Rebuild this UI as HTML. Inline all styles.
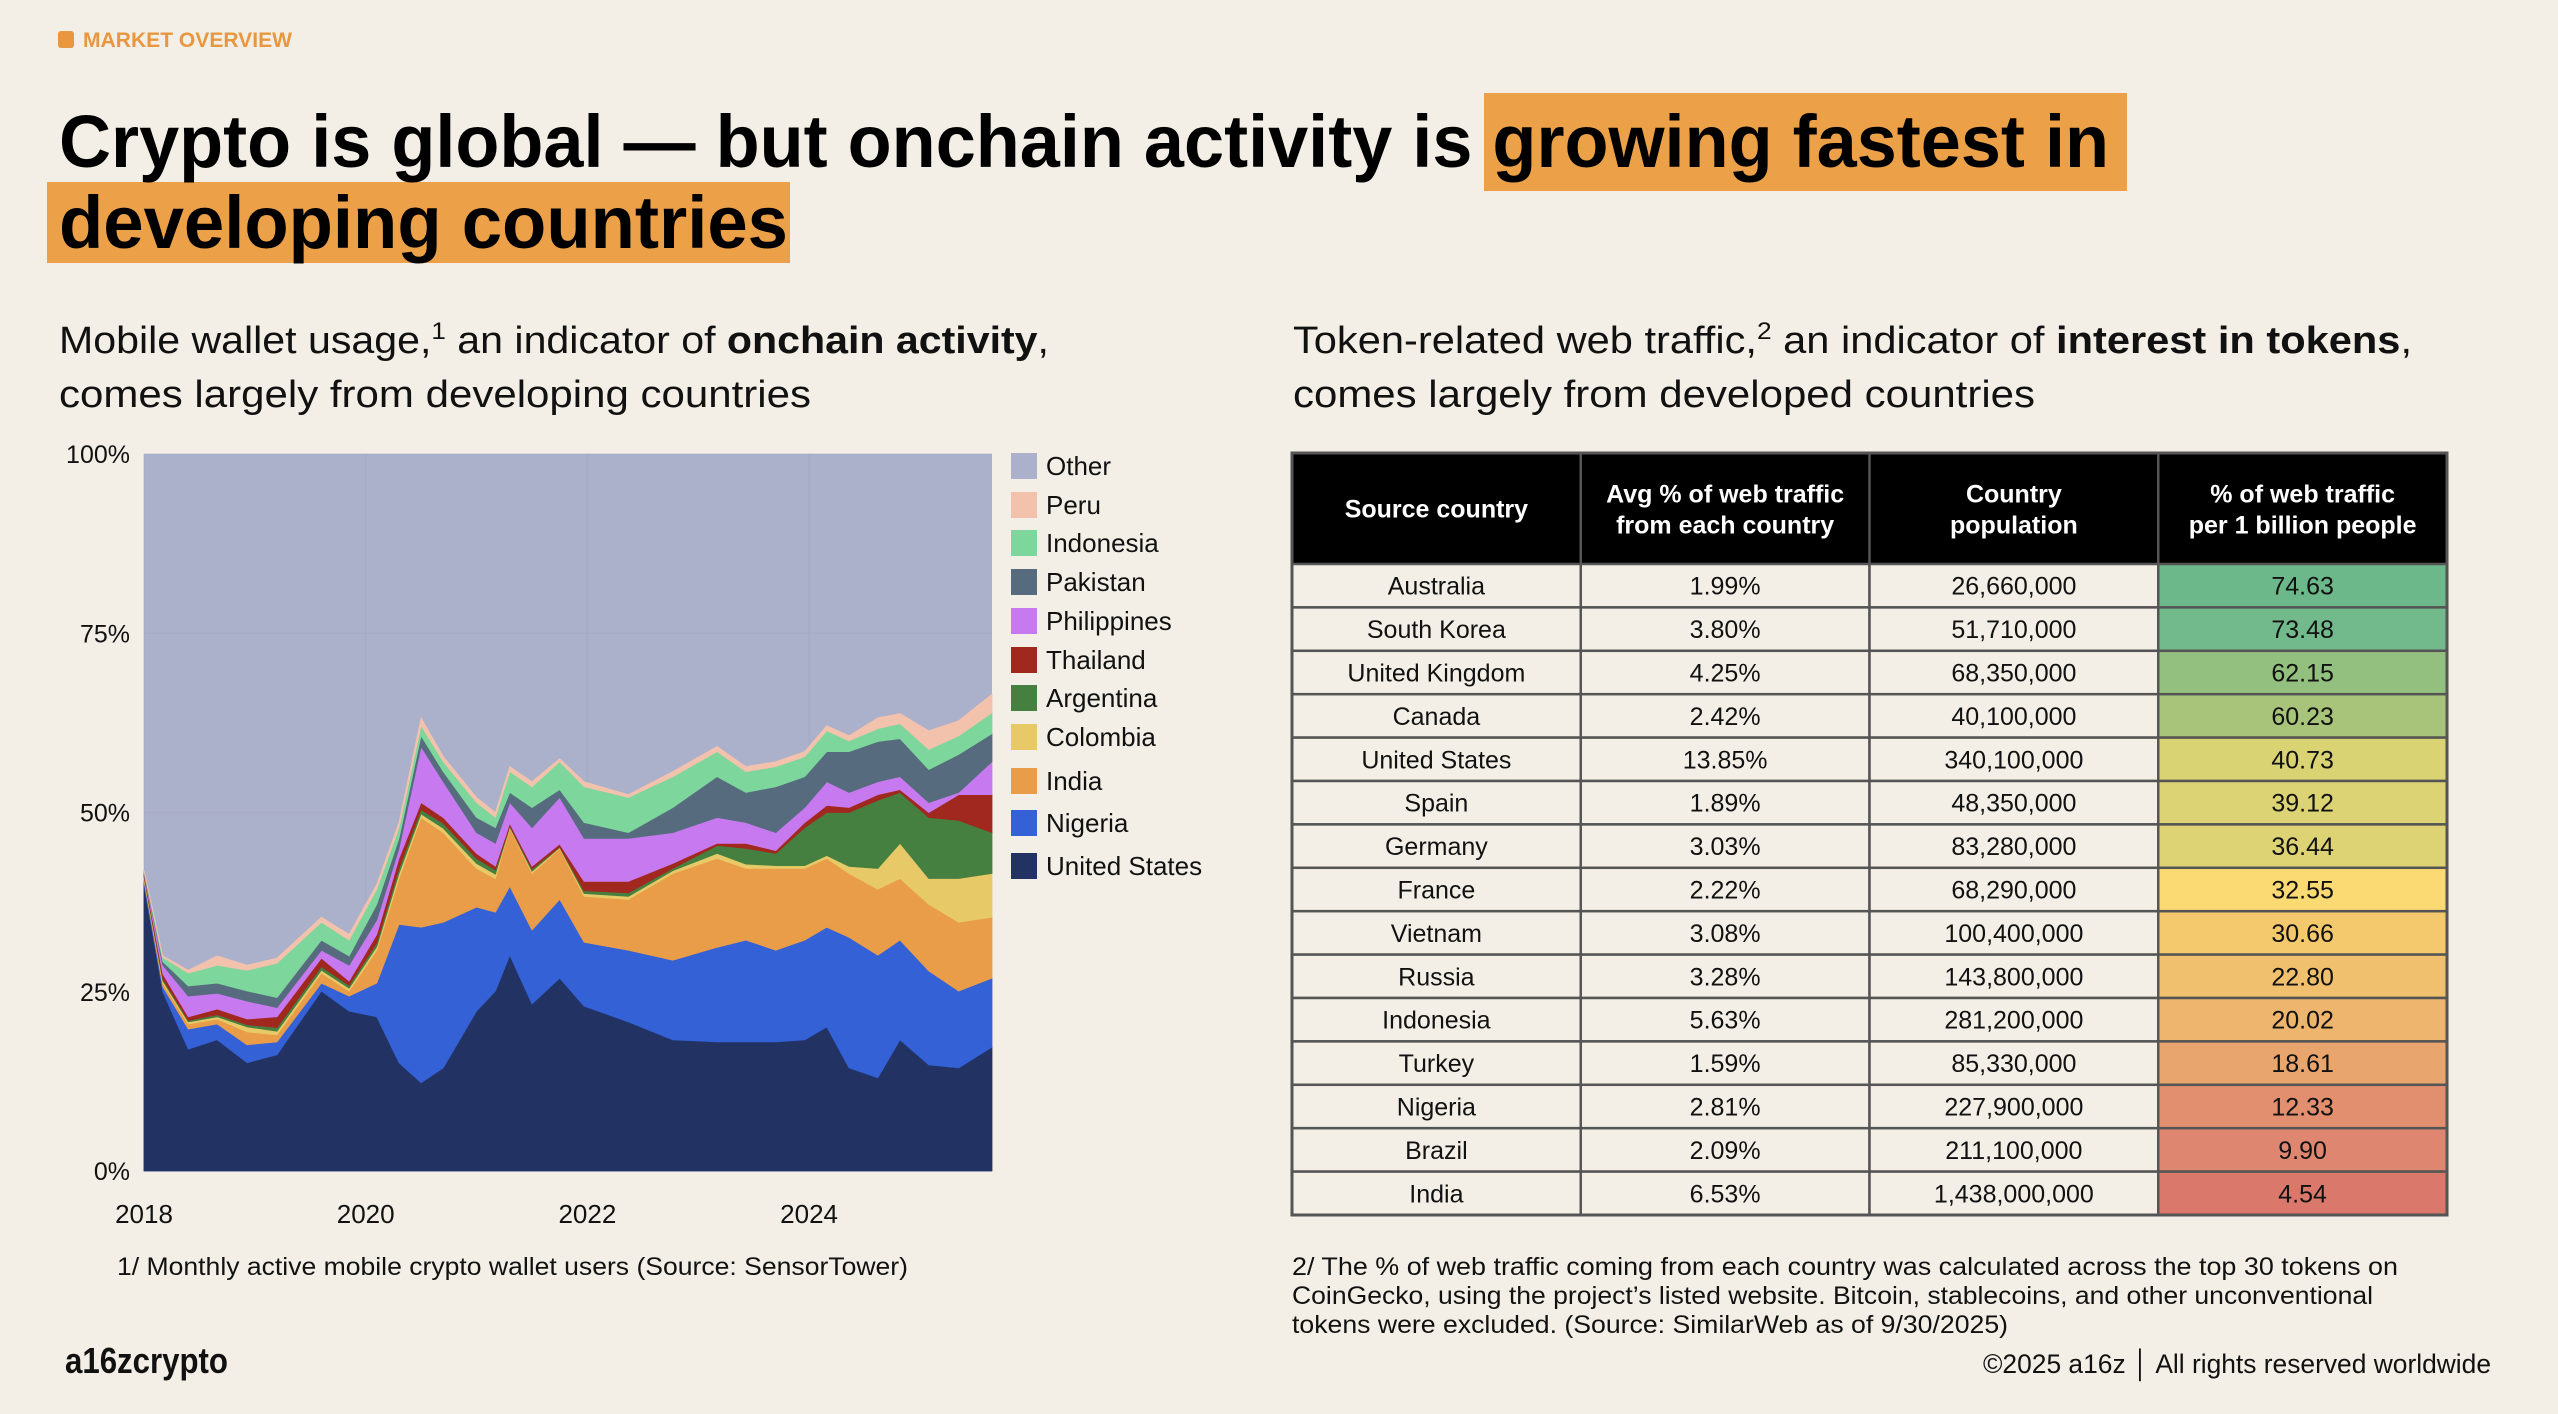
<!DOCTYPE html>
<html><head><meta charset="utf-8"><style>
html,body{margin:0;padding:0;background:#f3efe6;}
svg{display:block;font-family:"Liberation Sans",sans-serif;}
</style></head><body>
<svg id="page" width="2558" height="1414" viewBox="0 0 2558 1414" xmlns="http://www.w3.org/2000/svg">
<rect x="0" y="0" width="2558" height="1414" fill="#f3efe6"/>
<g>
<rect x="58" y="31" width="16" height="17" rx="3" fill="#e8973f"/>
<text x="83" y="47" font-size="21" font-weight="bold" fill="#e8973f" textLength="209" lengthAdjust="spacingAndGlyphs">MARKET OVERVIEW</text>
</g>
<g>
<rect x="1484" y="93" width="643" height="98" fill="#eca048"/>
<rect x="47" y="182" width="743" height="81" fill="#eca048"/>
<text x="59" y="167" font-size="74" font-weight="bold" fill="#000" textLength="2050" lengthAdjust="spacingAndGlyphs">Crypto is global — but onchain activity is growing fastest in</text>
<text x="59" y="248" font-size="74" font-weight="bold" fill="#000" textLength="729" lengthAdjust="spacingAndGlyphs">developing countries</text>
</g>
<g font-size="38" fill="#111">
<text x="59" y="353" textLength="990" lengthAdjust="spacingAndGlyphs">Mobile wallet usage,<tspan font-size="24" dy="-14">1</tspan><tspan dy="14"> an indicator of </tspan><tspan font-weight="bold">onchain activity</tspan>,</text>
<text x="59" y="407" textLength="752" lengthAdjust="spacingAndGlyphs">comes largely from developing countries</text>
</g>
<g font-size="38" fill="#111">
<text x="1293" y="353" textLength="1119" lengthAdjust="spacingAndGlyphs">Token-related web traffic,<tspan font-size="24" dy="-14">2</tspan><tspan dy="14"> an indicator of </tspan><tspan font-weight="bold">interest in tokens</tspan>,</text>
<text x="1293" y="407" textLength="742" lengthAdjust="spacingAndGlyphs">comes largely from developed countries</text>
</g>
<g id="chart"></g>
<g id="legend"></g>
<g id="table"></g>
<text x="117" y="1275" font-size="25" fill="#111" textLength="791" lengthAdjust="spacingAndGlyphs">1/ Monthly active mobile crypto wallet users (Source: SensorTower)</text>
<g font-size="25" fill="#111">
<text x="1292" y="1275" textLength="1106" lengthAdjust="spacingAndGlyphs">2/ The % of web traffic coming from each country was calculated across the top 30 tokens on</text>
<text x="1292" y="1304" textLength="1081" lengthAdjust="spacingAndGlyphs">CoinGecko, using the project’s listed website. Bitcoin, stablecoins, and other unconventional</text>
<text x="1292" y="1333" textLength="716" lengthAdjust="spacingAndGlyphs">tokens were excluded. (Source: SimilarWeb as of 9/30/2025)</text>
</g>
<text x="65" y="1373" font-size="36" font-weight="bold" fill="#111" textLength="163" lengthAdjust="spacingAndGlyphs">a16zcrypto</text>
<text x="1983" y="1373" font-size="27" fill="#111" textLength="508" lengthAdjust="spacingAndGlyphs">©2025 a16z │ All rights reserved worldwide</text>
</svg>
<script>
// ---- chart data ----
const dates = [2018.0,2018.17,2018.4,2018.66,2018.93,2019.2,2019.6,2019.85,2020.1,2020.3,2020.5,2020.7,2021.0,2021.17,2021.3,2021.5,2021.75,2021.97,2022.37,2022.77,2023.17,2023.43,2023.7,2023.96,2024.16,2024.36,2024.62,2024.82,2025.08,2025.35,2025.65];
const unitedStates = [40,25,17,18.3,15.1,16.2,25.1,22.3,21.5,15.1,12.3,14.4,22.3,25.1,30.1,23.3,26.9,23,20.8,18.3,18,18,18,18.3,20.1,14.4,13,18.3,14.8,14.4,17.3];
const nigeria = [0.5,0.7,2.8,2.2,2.5,1.8,1.1,2.1,4.7,19.3,21.7,20.3,14.5,11,9.6,10.3,11,8.9,10,11.1,13.2,14.2,12.8,13.9,13.9,18.2,17.1,13.9,13.1,10.7,9.6];
const india = [0.3,0.5,0.7,0.7,1.8,1,1.4,0.7,4.6,6.4,15.3,12.5,5.4,4.7,8.2,7.9,7.1,6.4,7.1,12.1,12.4,10,11.4,10,9.6,8.9,9.2,8.6,9.3,9.6,8.5];
const colombia = [0.2,0.3,0.3,0.3,0.7,0.5,0.4,0.4,0.5,0.7,0.5,0.6,0.7,0.6,0.1,0.3,0.1,0.4,0.4,0.4,0.7,0.6,0.4,0.4,0.4,1,2.9,4.9,3.6,6.1,6.1];
const argentina = [0.2,0.3,0.2,0.3,0.3,0.5,0.5,0.4,0.5,0.7,0.6,0.7,0.7,0.6,0.1,0.3,0.1,0.4,0.5,0.3,1.1,2.2,1.7,5.3,6,7.5,9.5,7.1,8.5,8.1,5.7];
const thailand = [0.3,0.7,0.5,0.8,0.8,1.5,1.2,0.6,1.2,1.4,1,0.8,0.7,0.5,0.4,0.4,0.4,1.3,1.6,0.7,0.3,0.7,0.4,0.7,1,0.7,0.8,0.4,0.7,3.6,5.3];
const philippines = [0.2,1.2,2.9,2.2,2.5,1.3,1.1,2.2,2,1.4,7.8,5,2.9,3.2,2.9,5.4,6.5,6,6,4.3,3.6,2.9,2.5,2.1,3.3,2.1,1.8,1.8,1.4,0.3,4.6];
const pakistan = [0.1,0.5,1.4,1.4,1.4,1.4,1.4,1.3,2.2,1.4,1.5,1.4,2.1,2.2,1.4,2.8,1.1,2.2,0.8,3.5,5.7,4.2,6.4,4.3,4.2,5.7,5.6,5.3,4.6,5.3,3.9];
const indonesia = [0.1,0.6,1.8,2.5,2.9,4.8,2.5,2.2,2.1,1.5,1.4,1.4,2.1,1.4,2.9,2.9,3.9,5,4.9,4.3,3.5,2.9,2.8,2.8,2.9,1.5,1.8,2.1,2.8,2.6,2.9];
const peru = [0.1,0.2,0.4,1.3,0.7,0.7,0.7,0.8,0.7,0.7,1.1,0.7,0.7,0.7,0.7,0.7,0.4,0.7,0.4,0.7,0.7,0.7,0.7,0.7,0.7,0.7,1.5,1.4,2.6,2.1,2.6];
const seriesNames = ["United States","Nigeria","India","Colombia","Argentina","Thailand","Philippines","Pakistan","Indonesia","Peru"];
const yTicks = [0,25,50,75,100];
const yTickLabels = ["0%","25%","50%","75%","100%"];
const xTicks = [2018,2020,2022,2024];
const xTickLabels = ["2018","2020","2022","2024"];
const legendNames = ["Other","Peru","Indonesia","Pakistan","Philippines","Thailand","Argentina","Colombia","India","Nigeria","United States"];

// ---- table data ----
const tableCountries = ["Australia","South Korea","United Kingdom","Canada","United States","Spain","Germany","France","Vietnam","Russia","Indonesia","Turkey","Nigeria","Brazil","India"];
const tableTraffic = ["1.99%","3.80%","4.25%","2.42%","13.85%","1.89%","3.03%","2.22%","3.08%","3.28%","5.63%","1.59%","2.81%","2.09%","6.53%"];
const tablePopulation = ["26,660,000","51,710,000","68,350,000","40,100,000","340,100,000","48,350,000","83,280,000","68,290,000","100,400,000","143,800,000","281,200,000","85,330,000","227,900,000","211,100,000","1,438,000,000"];
const tablePerBillion = [74.63,73.48,62.15,60.23,40.73,39.12,36.44,32.55,30.66,22.80,20.02,18.61,12.33,9.90,4.54];

const NS="http://www.w3.org/2000/svg";
const colors = {"United States":"#223363","Nigeria":"#3461d6","India":"#e99d48","Colombia":"#e8c968","Argentina":"#468040","Thailand":"#a1281e","Philippines":"#c77af0","Pakistan":"#566c7e","Indonesia":"#7dd69b","Peru":"#f2c2ad","Other":"#abb0cb"};
const X0=144,X1=992,YT=454,YB=1171;
const xScale = d => X0 + (d-2018)*(X1-X0)/7.65;
const yScale = v => YB - v*(YB-YT)/100;
function el(tag,attrs,parent){const e=document.createElementNS(NS,tag);for(const k in attrs)e.setAttribute(k,attrs[k]);parent.appendChild(e);return e;}
const chart=document.getElementById('chart');
const seriesData=[unitedStates,nigeria,india,colombia,argentina,thailand,philippines,pakistan,indonesia,peru];

const other=el('rect',{x:X0,y:YT,width:X1-X0,height:YB-YT,fill:colors.Other},chart);


xTicks.forEach(t=>{const g=el('line',{x1:xScale(t),x2:xScale(t),y1:YT,y2:YB,stroke:'#9ea3bf','stroke-width':1.5,opacity:0.35},chart);

});
yTicks.forEach(t=>{const g=el('line',{x1:X0,x2:X1,y1:yScale(t),y2:yScale(t),stroke:'#9ea3bf','stroke-width':1.5,opacity:0.35},chart);

});

let base=dates.map(()=>0);
seriesData.forEach((arr,i)=>{
  const top=base.map((b,j)=>b+arr[j]);
  let d='M'+dates.map((t,j)=>xScale(t).toFixed(1)+','+yScale(top[j]).toFixed(1)).join(' L');
  for(let j=dates.length-1;j>=0;j--) d+=' L'+xScale(dates[j]).toFixed(1)+','+yScale(base[j]).toFixed(1);
  d+='Z';
  const p=el('path',{d:d,fill:colors[seriesNames[i]],stroke:colors[seriesNames[i]],'stroke-width':0.8},chart);
  
  
  base=top;
});
yTicks.forEach((t,i)=>{const tx=el('text',{x:130,y:yScale(t)+9,'font-size':25,'text-anchor':'end',fill:'#111'},chart);tx.textContent=yTickLabels[i];

});
xTicks.forEach((t,i)=>{const tx=el('text',{x:xScale(t),y:1223,'font-size':26,'text-anchor':'middle',fill:'#111'},chart);tx.textContent=xTickLabels[i];

});

const legend=document.getElementById('legend');
const legendY=[466,505,543,582,621,660,698,737,781,823,866];
legendNames.forEach((n,i)=>{
  const r=el('rect',{x:1011,y:legendY[i]-13,width:26,height:26,fill:colors[n]},legend);
  
  
  const t=el('text',{x:1046,y:legendY[i]+9,'font-size':26,fill:'#111'},legend);t.textContent=n;
  
  
});

const tb=document.getElementById('table');
const TX=1292,TW=1155,TY=453,HH=111,RH=(1215-564)/15,CW=TW/4;
const heat=["#6db88a","#72b98b","#93c07f","#a8c47a","#d9d374","#dcd474","#ddd274","#fbd973","#f4c96e","#f0c06f","#edb56d","#e8a56d","#e18f6f","#df8670","#da786c"];
const hdr=el('rect',{x:TX,y:TY,width:TW,height:HH,fill:'#000'},tb);


const headers=[["Source country"],["Avg % of web traffic","from each country"],["Country","population"],["% of web traffic","per 1 billion people"]];
headers.forEach((h,c)=>{h.forEach((line,k)=>{
  const y=h.length===1?TY+HH/2+9:TY+HH/2-6+k*31;
  const t=el('text',{x:TX+CW*(c+0.5),y:y,'font-size':25,'font-weight':'bold',fill:'#fff','text-anchor':'middle'},tb);t.textContent=line;
  
  
});});
tableCountries.forEach((cn,i)=>{
  const y=TY+HH+RH*i;
  const vals=[cn,tableTraffic[i],tablePopulation[i],tablePerBillion[i].toFixed(2)];
  vals.forEach((v,c)=>{
    const r=el('rect',{x:TX+CW*c,y:y,width:CW,height:RH,fill:c===3?heat[i]:'#f3efe6',stroke:'#555','stroke-width':2.5},tb);
    
    
    const t=el('text',{x:TX+CW*(c+0.5),y:y+RH/2+9,'font-size':25,fill:'#111','text-anchor':'middle'},tb);t.textContent=v;
    
    
  });
});
for(let c=1;c<4;c++){const l=el('line',{x1:TX+CW*c,x2:TX+CW*c,y1:TY,y2:TY+HH,stroke:'#555','stroke-width':2.5},tb);

}
const fr=el('rect',{x:TX,y:TY,width:TW,height:1215-TY,fill:'none',stroke:'#555','stroke-width':3},tb);


</script>
</body></html>
